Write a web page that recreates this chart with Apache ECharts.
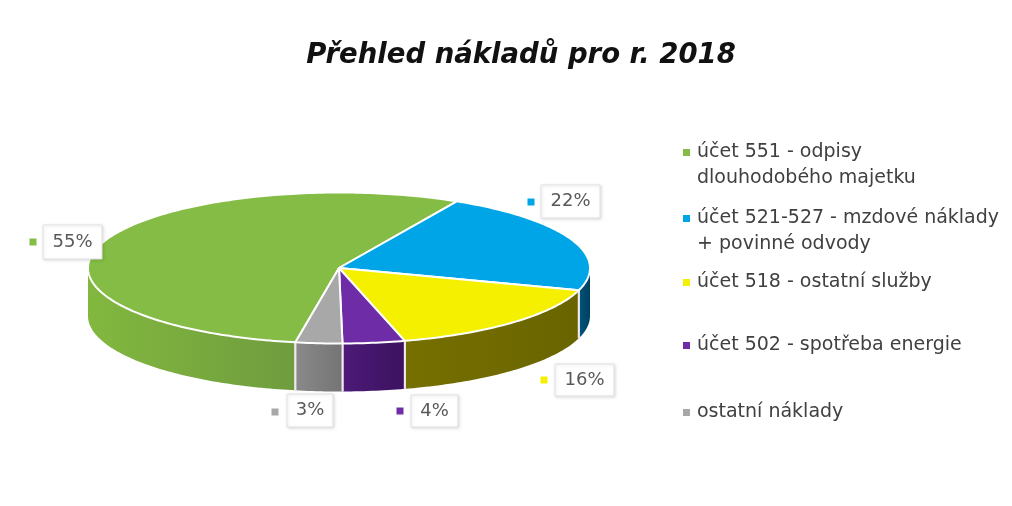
<!DOCTYPE html>
<html>
<head>
<meta charset="utf-8">
<style>
  html, body { margin: 0; padding: 0; background: #fff; }
  #chart { width: 1012px; height: 506px; }
</style>
<script src="https://cdn.jsdelivr.net/npm/echarts@6/dist/echarts.min.js"></script>
</head>
<body>
<div id="chart"></div>
<script>
const chartTitle = 'Přehled nákladů pro r. 2018';
const categories = ['účet 551 - odpisy', 'účet 521-527 - mzdové náklady', 'účet 518 - ostatní služby', 'účet 502 - spotřeba energie', 'ostatní náklady'];
const secondLines = ['dlouhodobého majetku', '+ povinné odvody', '', '', ''];
const shares = [55, 22, 16, 4, 3];

const topColors = ['#85bc45', '#00a5e8', '#f4f000', '#6e2ca6', '#a8a8a8'];
const wallFrom = ['#82b83f', '#00557c', '#767000', '#4d1a78', '#8a8a8a'];
const wallTo = ['#6f9c3e', '#00405f', '#6a6400', '#3c1260', '#747474'];

// pie layout
const firstSliceAngle = 190;
const cx = 339, cy = 268, rx = 251, ry = 75.5, depth = 48;
// label boxes: left, top, width, height, marker centre x, marker centre y
const labelBoxes = [
  [43, 225, 59, 34, 33, 242],
  [541, 185, 59, 33, 531, 202],
  [555, 364, 59, 32, 544, 380],
  [411, 395, 47, 32, 400, 411],
  [287, 394, 46, 33, 275, 412]
];
const legendTops = [143, 209, 273, 336, 403];

function rimPoint(deg, drop) {
  const t = deg * Math.PI / 180;
  return [cx + rx * Math.sin(t), cy - ry * Math.cos(t) + (drop || 0)];
}

function arcPoints(a0, a1, drop) {
  const pts = [];
  const n = Math.max(2, Math.ceil(a1 - a0));
  for (let i = 0; i <= n; i++) pts.push(rimPoint(a0 + (a1 - a0) * i / n, drop));
  return pts;
}

const total = shares.reduce((a, b) => a + b, 0);
const sliceAngles = [];
let cursor = firstSliceAngle;
shares.forEach(v => {
  const a0 = cursor % 360;
  const a1 = a0 + v / total * 360;
  sliceAngles.push([a0, a1]);
  cursor = a1;
});

function renderSlice(idx) {
  return function () {
    const [a0, a1] = sliceAngles[idx];
    const children = [];
    // side wall, only the part facing the viewer
    const lo = Math.max(a0, 90), hi = Math.min(a1, 270);
    if (hi > lo) {
      children.push({
        type: 'polygon',
        shape: { points: arcPoints(lo, hi, 0).concat(arcPoints(lo, hi, depth).reverse()) },
        style: {
          fill: new echarts.graphic.LinearGradient(0, 0, 1, 0, [
            { offset: 0, color: wallFrom[idx] },
            { offset: 1, color: wallTo[idx] }
          ]),
          stroke: null
        }
      });
      [a0, a1].forEach(a => {
        if (a > 90 && a < 270) {
          const p = rimPoint(a, 0), q = rimPoint(a, depth);
          children.push({
            type: 'line',
            shape: { x1: p[0], y1: p[1], x2: q[0], y2: q[1] },
            style: { stroke: '#f0e8f0', lineWidth: 2 }
          });
        }
      });
    }
    // top face
    children.push({
      type: 'polygon',
      shape: { points: [[cx, cy]].concat(arcPoints(a0, a1, 0)) },
      style: { fill: topColors[idx], stroke: '#fff', lineWidth: 2, lineJoin: 'round' }
    });
    // data label
    const b = labelBoxes[idx];
    children.push({
      type: 'rect',
      shape: { x: b[4] - 3.5, y: b[5] - 3.5, width: 7, height: 7 },
      style: { fill: topColors[idx] }
    });
    children.push({
      type: 'rect',
      shape: { x: b[0], y: b[1], width: b[2], height: b[3] },
      style: { fill: '#fff', stroke: '#e2e2e2', lineWidth: 1, shadowBlur: 3, shadowColor: 'rgba(0,0,0,0.12)', shadowOffsetX: 1, shadowOffsetY: 1 },
      z2: 5
    });
    children.push({
      type: 'text',
      x: b[0] + b[2] / 2,
      y: b[1] + b[3] / 2,
      z2: 6,
      style: {
        text: shares[idx] + '%',
        align: 'center',
        verticalAlign: 'middle',
        fill: '#595959',
        font: '18px "DejaVu Sans"'
      }
    });
    return { type: 'group', children };
  };
}

const legendRich = idx => ({
  m: { width: 7, height: 7, backgroundColor: topColors[idx] },
  g: { width: 7, height: 7 },
  i: { width: 14, height: 7 },
  t: { fontFamily: 'DejaVu Sans', fontSize: 19, color: '#404040', lineHeight: 26 }
});

const chart = echarts.init(document.getElementById('chart'), null, { renderer: 'canvas' });
chart.setOption({
  animation: false,
  backgroundColor: '#fff',
  title: {
    text: chartTitle,
    left: 516,
    top: 37,
    textAlign: 'center',
    textStyle: { fontFamily: 'DejaVu Sans', fontStyle: 'italic', fontWeight: 'bold', fontSize: 27.5, color: '#111' }
  },
  legend: categories.map((name, idx) => ({
    data: [name],
    left: 678,
    top: legendTops[idx],
    orient: 'vertical',
    padding: 0,
    itemWidth: 0,
    itemHeight: 0,
    itemGap: 0,
    icon: 'rect',
    selectedMode: false,
    textStyle: { rich: legendRich(idx), padding: 0 },
    formatter: n => {
      const second = secondLines[idx];
      return '{m|}{g|}{t|' + n + '}' + (second ? '\n{i|}{t|' + second + '}' : '');
    }
  })),
  series: categories.map((name, idx) => ({
    type: 'custom',
    name,
    coordinateSystem: 'none',
    silent: true,
    itemStyle: { color: topColors[idx] },
    data: [shares[idx]],
    renderItem: renderSlice(idx)
  }))
});
window.onresize = function () {
  chart.resize();
};
</script>
</body>
</html>
